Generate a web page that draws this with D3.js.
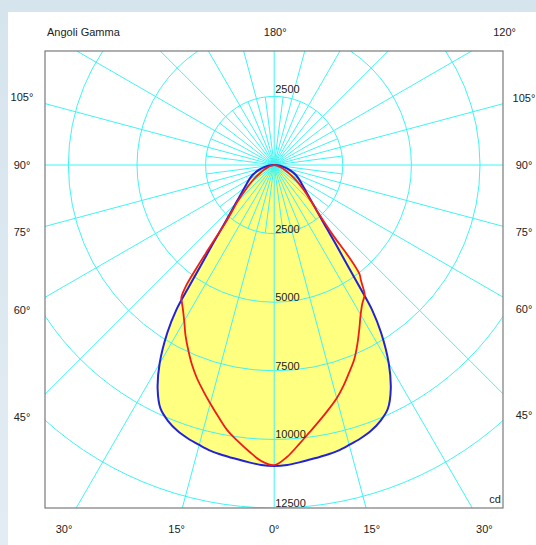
<!DOCTYPE html>
<html>
<head>
<meta charset="utf-8">
<script src="https://cdn.jsdelivr.net/npm/d3@7"></script>
<style>
  html, body { margin: 0; padding: 0; background: #dbe7f0; }
  svg { display: block; }
  text { font-family: "Liberation Sans", Arial, sans-serif; font-size: 11px; fill: #222; }
</style>
</head>
<body>
<svg id="chart" width="536" height="545"></svg>
<script>
// ---------------- data ----------------
const gammaAngles = [0, 2.5, 5, 7.5, 10, 12.5, 15, 17.5, 20, 22.5, 25, 27.5, 30, 32.5, 34, 35, 36, 37, 38, 39, 40, 42.5, 45, 50, 55, 60, 65, 70, 75, 80, 85, 90];
// C0-C180 plane (blue), symmetric
const blueCd = [10970, 10940, 10870, 10800, 10740, 10670, 10560, 10450, 10310, 10100, 9800, 9200, 8350, 7250, 6400, 5420, 4610, 4050, 3600, 3220, 2900, 2350, 1990, 1520, 1240, 1050, 880, 680, 480, 300, 130, 0];
// C90-C270 plane (red): left and right halves
const redLeftCd = [10940, 10800, 10480, 10150, 9820, 9400, 9000, 8620, 8250, 7850, 7420, 7000, 6560, 6200, 6020, 5900, 5520, 4700, 3900, 3300, 2800, 2250, 1900, 1300, 920, 600, 400, 250, 140, 60, 20, 0];
const redRightCd = [10940, 10650, 10230, 9830, 9470, 9130, 8800, 8420, 8020, 7640, 7180, 6720, 6300, 5980, 5850, 5750, 5500, 5250, 5050, 4400, 3300, 2400, 1950, 1400, 980, 660, 430, 270, 150, 70, 25, 0];

const circleValues = [2500, 5000, 7500, 10000, 12500];
const circleLabels = ["2500", "5000", "7500", "10000", "12500"];
const majorRayAngles = d3.range(0, 360, 15);   // gamma angles of full rays
const minorRayAngles = d3.range(0, 360, 7.5).filter(a => a % 15 !== 0);
const leftTickAngles = [105, 90, 75, 60, 45];
const rightTickAngles = [105, 90, 75, 60, 45];
const bottomTickAngles = [-30, -15, 0, 15, 30];
const topTickAngle = 180, topRightTickAngle = 120;
const titleText = "Angoli Gamma";
const unitText = "cd";

// ---------------- layout ----------------
const W = 536, H = 545;
const box = { x0: 45, y0: 51, x1: 503, y1: 508 };
const cx = 274.2, cy = 165;
const r = d3.scaleLinear().domain([0, 12500]).range([0, 343]);

const svg = d3.select("#chart");

// page background + white panel
const defs = svg.append("defs");
const grad = defs.append("linearGradient").attr("id", "bg").attr("x1", 0).attr("y1", 0).attr("x2", 0).attr("y2", 1);
grad.append("stop").attr("offset", "0%").attr("stop-color", "#d6e4ee");
grad.append("stop").attr("offset", "100%").attr("stop-color", "#e2ecf3");
svg.append("rect").attr("width", W).attr("height", H).attr("fill", "url(#bg)");
svg.append("rect").attr("x", 8).attr("y", 12).attr("width", W - 8).attr("height", H - 12).attr("fill", "#ffffff");

defs.append("clipPath").attr("id", "boxclip")
  .append("rect").attr("x", box.x0).attr("y", box.y0)
  .attr("width", box.x1 - box.x0).attr("height", box.y1 - box.y0);

// gamma -> point (gamma measured from downward vertical, positive to the right)
function pt(gammaDeg, cd) {
  const g = gammaDeg * Math.PI / 180;
  const rr = r(cd);
  return [cx + rr * Math.sin(g), cy + rr * Math.cos(g)];
}
// end of a ray on the frame
function rayEnd(gammaDeg) {
  const g = gammaDeg * Math.PI / 180;
  const dx = Math.sin(g), dy = Math.cos(g);
  let t = Infinity;
  if (dx > 1e-9) t = Math.min(t, (box.x1 - cx) / dx);
  if (dx < -1e-9) t = Math.min(t, (box.x0 - cx) / dx);
  if (dy > 1e-9) t = Math.min(t, (box.y1 - cy) / dy);
  if (dy < -1e-9) t = Math.min(t, (box.y0 - cy) / dy);
  return [cx + t * dx, cy + t * dy];
}

const gridColor = "#3ff4f4";
function drawGrid(g) {
  g.selectAll("circle.ring").data(circleValues).join("circle")
    .attr("class", "ring").attr("cx", cx).attr("cy", cy).attr("r", d => r(d))
    .attr("fill", "none").attr("stroke", gridColor).attr("stroke-width", 1);
  g.selectAll("line.major").data(majorRayAngles).join("line")
    .attr("class", "major")
    .attr("x1", d => rayEnd(d)[0]).attr("y1", d => rayEnd(d)[1])
    .attr("x2", cx).attr("y2", cy)
    .attr("stroke", gridColor).attr("stroke-width", 1);
  g.selectAll("line.minor").data(minorRayAngles).join("line")
    .attr("class", "minor")
    .attr("x1", cx).attr("y1", cy)
    .attr("x2", d => pt(d, 2500)[0]).attr("y2", d => pt(d, 2500)[1])
    .attr("stroke", gridColor).attr("stroke-width", 1);
}

// curves
function curvePoints(leftVals, rightVals) {
  const pts = [];
  for (let i = gammaAngles.length - 1; i >= 0; i--) pts.push(pt(-gammaAngles[i], leftVals[i]));
  for (let i = 1; i < gammaAngles.length - 1; i++) pts.push(pt(gammaAngles[i], rightVals[i]));
  return pts;
}
const lineGen = d3.line().curve(d3.curveCatmullRomClosed.alpha(0.5));
const bluePts = curvePoints(blueCd, blueCd);
const redPts = curvePoints(redLeftCd, redRightCd);

const plot = svg.append("g").attr("clip-path", "url(#boxclip)");
plot.append("path").attr("d", lineGen(bluePts)).attr("fill", "#ffff80").attr("stroke", "none");
plot.append("path").attr("d", lineGen(redPts)).attr("fill", "#ffff80").attr("stroke", "none");

drawGrid(svg.append("g").attr("class", "grid").attr("clip-path", "url(#boxclip)"));

const lines = svg.append("g").attr("clip-path", "url(#boxclip)");
lines.append("path").attr("d", lineGen(bluePts)).attr("fill", "none").attr("stroke", "#2222d8").attr("stroke-width", 2);
lines.append("path").attr("d", lineGen(redPts)).attr("fill", "none").attr("stroke", "#f01c1c").attr("stroke-width", 1.8);

// circle labels (below centre, and the first one above)
svg.selectAll("text.cdlab").data(circleValues).join("text")
  .attr("class", "cdlab").attr("x", cx + 1).attr("y", d => cy + r(d) - 1).text((d, i) => circleLabels[i]);
svg.append("text").attr("x", cx + 1).attr("y", cy - r(circleValues[0]) - 3).text(circleLabels[0]);

// frame
svg.append("rect").attr("x", box.x0).attr("y", box.y0)
  .attr("width", box.x1 - box.x0).attr("height", box.y1 - box.y0)
  .attr("fill", "none").attr("stroke", "#7a7a7a").attr("stroke-width", 1.2);

// angle labels: placed where ray meets the label line
const leftX = 22, rightX = 524, bottomY = 529, topY = 32;
function rayAtX(gamma, x) {
  const g = gamma * Math.PI / 180;
  const t = (x - cx) / Math.sin(g);
  return cy + t * Math.cos(g);
}
function rayAtY(gamma, y) {
  const g = gamma * Math.PI / 180;
  const t = (y - cy) / Math.cos(g);
  return cx + t * Math.sin(g);
}
svg.selectAll("text.lt").data(leftTickAngles).join("text")
  .attr("class", "lt").attr("x", leftX).attr("y", d => rayAtX(-d, leftX)).attr("dy", "0.35em")
  .attr("text-anchor", "middle").text(d => d + "°");
svg.selectAll("text.rt").data(rightTickAngles).join("text")
  .attr("class", "rt").attr("x", rightX).attr("y", d => rayAtX(d, rightX)).attr("dy", "0.35em")
  .attr("text-anchor", "middle").text(d => d + "°");
svg.selectAll("text.bt").data(bottomTickAngles).join("text")
  .attr("class", "bt").attr("x", d => rayAtY(d, bottomY)).attr("y", bottomY).attr("dy", "0.35em")
  .attr("text-anchor", "middle").text(d => Math.abs(d) + "°");
svg.append("text").attr("x", cx + 1).attr("y", topY).attr("dy", "0.35em").attr("text-anchor", "middle").text(topTickAngle + "°");
svg.append("text").attr("x", rayAtY(topRightTickAngle, topY)).attr("y", topY).attr("dy", "0.35em").attr("text-anchor", "middle").text(topRightTickAngle + "°");
svg.append("text").attr("x", 47).attr("y", topY).attr("dy", "0.35em").text(titleText);
svg.append("text").attr("x", 495).attr("y", 499).attr("dy", "0.35em").attr("text-anchor", "middle").text(unitText);
</script>
</body>
</html>
